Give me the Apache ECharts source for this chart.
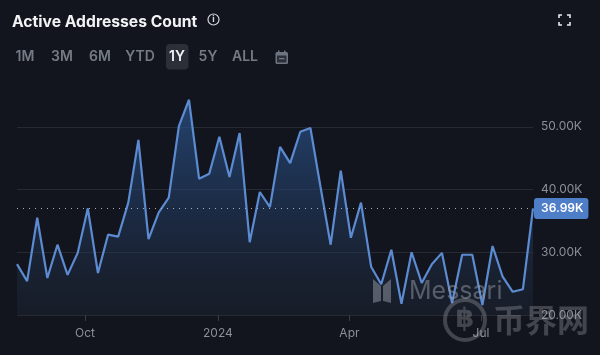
<!DOCTYPE html>
<html>
<head>
<meta charset="utf-8">
<style>
  html, body { margin: 0; padding: 0; background: #12151d; }
  #chart { width: 600px; height: 355px; }
</style>
<script src="https://cdn.jsdelivr.net/npm/echarts@6/dist/echarts.min.js"></script>
</head>
<body>
<div id="chart"></div>
<script>
// weekly samples, values in thousands
var dates = [
  '2023-08-15','2023-08-22','2023-08-29','2023-09-05','2023-09-12','2023-09-19','2023-09-26',
  '2023-10-03','2023-10-10','2023-10-17','2023-10-24','2023-10-31','2023-11-07','2023-11-14',
  '2023-11-21','2023-11-28','2023-12-05','2023-12-12','2023-12-19','2023-12-26','2024-01-02',
  '2024-01-09','2024-01-16','2024-01-23','2024-01-30','2024-02-06','2024-02-13','2024-02-20',
  '2024-02-27','2024-03-05','2024-03-12','2024-03-19','2024-03-26','2024-04-02','2024-04-09',
  '2024-04-16','2024-04-23','2024-04-30','2024-05-07','2024-05-14','2024-05-21','2024-05-28',
  '2024-06-04','2024-06-11','2024-06-18','2024-06-25','2024-07-02','2024-07-09','2024-07-16',
  '2024-07-23','2024-07-30','2024-08-06'
];
var addresses = [
  28.1, 25.4, 35.5, 25.9, 31.2, 26.4, 29.9, 37.0, 26.7, 32.8, 32.5, 37.9, 47.9,
  32.1, 36.3, 38.7, 50.1, 54.3, 41.7, 42.5, 48.4, 42.0, 49.0, 31.6, 39.6, 37.2,
  46.8, 44.2, 49.2, 49.8, 40.4, 31.2, 43.0, 32.3, 37.9, 27.7, 24.9, 30.4, 21.8,
  30.0, 25.1, 28.1, 29.9, 21.9, 29.6, 29.6, 21.6, 31.0, 26.1, 23.7, 24.1, 36.99
];
var tickDates = ['2023-10-01', '2024-01-01', '2024-04-01', '2024-07-01'];
var tickLabels = ['Oct', '2024', 'Apr', 'Jul'];
var rangeTabs = ['1M', '3M', '6M', 'YTD', '1Y', '5Y', 'ALL'];
var rangeTabX = [25, 62, 100, 140, 177, 208, 245];
var activeTab = '1Y';

var font = 'Inter, "Noto Sans", sans-serif';
function toTime(d) { return +echarts.time.parse(d); }
var tickTimes = tickDates.map(toTime);
var dateTimes = dates.map(toTime);
var seriesData = dateTimes.map(function (t, i) { return [t, addresses[i]]; });
var lastValue = addresses[addresses.length - 1];

var markGray = 'rgba(150,155,165,0.5)';
var siteGray = 'rgba(170,172,176,0.32)';

var graphics = [
  // info icon
  { type: 'circle', shape: { cx: 213.5, cy: 19.5, r: 5.5 }, style: { fill: 'none', stroke: '#d5d7db', lineWidth: 1.2 } },
  { type: 'text', x: 213.5, y: 19.5, style: { text: 'i', font: '700 9px ' + font, fill: '#d5d7db', align: 'center', verticalAlign: 'middle' } },
  // active tab background
  { type: 'rect', shape: { x: 166, y: 44, width: 22.5, height: 25.5, r: 4 }, style: { fill: '#2b2f39' } },
  // calendar icon
  { type: 'rect', shape: { x: 275.5, y: 52, width: 12.5, height: 12, r: 1.5 }, style: { fill: '#6f7580' } },
  { type: 'rect', shape: { x: 277, y: 55.5, width: 9.5, height: 7 }, style: { fill: '#2b2f39' } },
  { type: 'rect', shape: { x: 278, y: 50.5, width: 1.5, height: 2.5 }, style: { fill: '#6f7580' } },
  { type: 'rect', shape: { x: 284, y: 50.5, width: 1.5, height: 2.5 }, style: { fill: '#6f7580' } },
  { type: 'rect', shape: { x: 279, y: 58, width: 5.5, height: 1.3 }, style: { fill: '#6f7580' } },
  // fullscreen icon
  { type: 'polyline', shape: { points: [[559, 18], [559, 15], [562, 15]] }, style: { fill: 'none', stroke: '#e8eaed', lineWidth: 1.6 } },
  { type: 'polyline', shape: { points: [[567, 15], [570, 15], [570, 18]] }, style: { fill: 'none', stroke: '#e8eaed', lineWidth: 1.6 } },
  { type: 'polyline', shape: { points: [[559, 22], [559, 25], [562, 25]] }, style: { fill: 'none', stroke: '#e8eaed', lineWidth: 1.6 } },
  { type: 'polyline', shape: { points: [[567, 25], [570, 25], [570, 22]] }, style: { fill: 'none', stroke: '#e8eaed', lineWidth: 1.6 } },
  // Messari watermark
  { type: 'polygon', z: 20, shape: { points: [[373, 279], [381, 286], [381, 301], [373, 303]] }, style: { fill: markGray } },
  { type: 'polygon', z: 20, shape: { points: [[383, 286], [391, 279], [391, 303], [383, 301]] }, style: { fill: markGray } },
  { type: 'text', z: 20, x: 409, y: 291, style: { text: 'Messari', font: '400 25px ' + font, fill: markGray, verticalAlign: 'middle' } },
  // site watermark
  { type: 'circle', z: 20, shape: { cx: 465, cy: 320, r: 20 }, style: { fill: 'none', stroke: siteGray, lineWidth: 4 } },
  { type: 'text', z: 20, x: 465, y: 320, style: { text: '฿', font: '700 27px "DejaVu Sans"', fill: siteGray, align: 'center', verticalAlign: 'middle' } },
  { type: 'text', z: 20, x: 493, y: 320, style: { text: '币界网', font: '700 32px "Noto Sans CJK SC"', fill: siteGray, verticalAlign: 'middle' } }
];

rangeTabs.forEach(function (t, i) {
  graphics.push({
    type: 'text', x: rangeTabX[i], y: 57,
    style: {
      text: t, font: '600 14px ' + font,
      fill: t === activeTab ? '#f2f3f5' : '#757b86',
      align: 'center', verticalAlign: 'middle'
    }
  });
});

var chart = echarts.init(document.getElementById('chart'));
chart.setOption({
  animation: false,
  backgroundColor: '#12151d',
  title: {
    text: 'Active Addresses Count',
    left: 7, top: 9,
    textStyle: { color: '#f2f3f5', fontSize: 15.7, fontWeight: 700, fontFamily: font }
  },
  grid: { left: 17, right: 67, top: 64, bottom: 40 },
  xAxis: {
    type: 'value',
    min: dateTimes[0],
    max: dateTimes[dateTimes.length - 1],
    axisLine: { show: false },
    axisTick: { show: true, customValues: tickTimes, length: 6, lineStyle: { color: '#3a3e47' } },
    splitLine: { show: false },
    axisLabel: {
      customValues: tickTimes,
      color: '#8a8f98', fontSize: 12, fontFamily: font, margin: 12,
      formatter: function (v) { return tickLabels[tickTimes.indexOf(+v)]; }
    }
  },
  yAxis: {
    type: 'value',
    position: 'right',
    min: 20, max: 60, interval: 10,
    axisLine: { show: false },
    axisTick: { show: false },
    splitLine: { showMaxLine: false, lineStyle: { color: '#262a33', width: 1 } },
    axisLabel: {
      color: '#8a8f98', fontSize: 12, fontFamily: font, margin: 8,
      showMaxLabel: false,
      formatter: function (v) { return v.toFixed(2) + 'K'; }
    }
  },
  series: [{
    type: 'line',
    data: seriesData,
    symbol: 'none',
    lineStyle: { color: '#5c8bd2', width: 2.2 },
    itemStyle: { color: '#5c8bd2' },
    areaStyle: {
      color: new echarts.graphic.LinearGradient(0, 0, 0, 1, [
        { offset: 0, color: 'rgba(46,90,152,0.95)' },
        { offset: 0.5, color: 'rgba(36,64,106,0.75)' },
        { offset: 1, color: 'rgba(34,44,62,0.45)' }
      ])
    },
    markLine: {
      silent: true,
      symbol: 'none',
      lineStyle: { color: '#a9adb5', type: [1, 5], width: 1 },
      label: {
        position: 'end',
        distance: 1,
        formatter: lastValue.toFixed(2) + 'K',
        color: '#ffffff',
        fontSize: 12,
        fontWeight: 600,
        fontFamily: font,
        backgroundColor: '#4f7ec8',
        borderRadius: 3,
        padding: [5, 5, 4, 7],
        align: 'left'
      },
      data: [{ yAxis: lastValue }]
    }
  }],
  graphic: graphics
});
</script>
</body>
</html>
